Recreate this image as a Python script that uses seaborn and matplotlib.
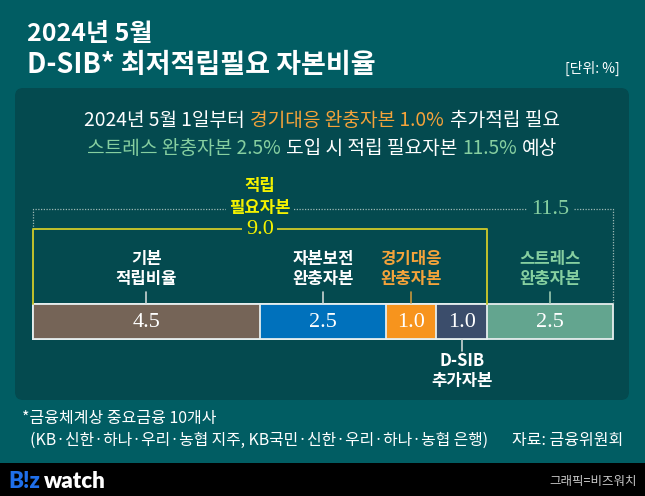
import numpy as np
import pandas as pd
import matplotlib
matplotlib.use("Agg")
import matplotlib.pyplot as plt
import matplotlib.transforms as mtransforms
from matplotlib.patches import FancyBboxPatch, Rectangle
import seaborn as sns

# ---------------- data ----------------
segments = ["기본 적립비율", "자본보전 완충자본", "경기대응 완충자본", "D-SIB 추가자본", "스트레스 완충자본"]
values = [4.5, 2.5, 1.0, 1.0, 2.5]
seg_colors = ["#756457", "#0071BC", "#F7941D", "#3B4D6B", "#63A58F"]
label_lines = [["기본", "적립비율"], ["자본보전", "완충자본"], ["경기대응", "완충자본"],
               ["D-SIB", "추가자본"], ["스트레스", "완충자본"]]
label_side = ["above", "above", "above", "below", "above"]
required_total = 9.0
stress_total = 11.5
required_label = ["적립", "필요자본"]

title_top = "2024년 5월"
title_main = "D-SIB* 최저적립필요 자본비율"
unit_text = "[단위: %]"
sub_line1 = [("2024년 5월 1일부터", "w"), ("경기대응 완충자본 1.0%", "o"), ("추가적립 필요", "w")]
sub_line2 = [("스트레스 완충자본 2.5%", "g"), ("도입 시 적립 필요자본", "w"), ("11.5%", "g"), ("예상", "w")]
foot1 = "*금융체계상 중요금융 10개사"
foot2 = "(KB·신한·하나·우리·농협 지주, KB국민·신한·우리·하나·농협 은행)"
source = "자료: 금융위원회"
credit = "그래픽=비즈워치"

# ---------------- style ----------------
BG = "#015D63"
PANEL = "#044A4F"
ORANGE = "#F5A33A"
GREEN = "#86CFA0"
YELLOW = "#F4F200"
YLINE = "#C2C22C"
DOT = "#9DB8B4"
txt_col = {"w": "white", "o": ORANGE, "g": GREEN}
label_colors = ["white", "white", ORANGE, "white", GREEN]
tick_colors = ["#C9D3D3", "#C9D3D3", "#C8963A", "#C9D3D3", "#9CC9B0"]

sns.set_theme(style="white")
plt.rcParams['font.family'] = ['Noto Sans CJK KR', 'DejaVu Sans']
SERIF = ['Liberation Serif', 'DejaVu Serif']

fig = plt.figure(figsize=(6.45, 4.96), dpi=100, facecolor=BG)
bg = fig.add_axes([0, 0, 1, 1])
bg.set_xlim(0, 645)
bg.set_ylim(496, 0)
bg.axis("off")
bg.add_patch(FancyBboxPatch((23, 96), 598, 296, boxstyle="round,pad=8",
                            fc=PANEL, ec="none"))
bg.add_patch(Rectangle((0, 463), 645, 33, fc="black", ec="none"))

# titles
bg.text(27, 34, title_top, fontsize=18, weight="bold", color="white", va="center")
bg.text(27, 65, title_main, fontsize=19.5, weight="bold", color="white", va="center")
bg.text(620, 68, unit_text, fontsize=10, color="white", ha="right", va="center")

# rich text helper
def rich_line(parts, y, size, gap_pt):
    first = None
    prev = None
    arts = []
    for s, c in parts:
        if prev is None:
            prev = bg.text(0, y, s, fontsize=size, color=txt_col[c], va="center", ha="left")
            first = prev
        else:
            prev = bg.annotate(s, xy=(1, 0), xycoords=prev, xytext=(gap_pt, 0),
                               textcoords="offset points", fontsize=size,
                               color=txt_col[c], va="bottom", ha="left")
        arts.append(prev)
    return first, arts

rich = [rich_line(sub_line1, 121, 13.8, 3.8), rich_line(sub_line2, 148, 13.8, 3.8)]

# ---------------- bars ----------------
ax = fig.add_axes([33 / 645, 1 - 339 / 496, 580 / 645, 35 / 496])
cum = np.cumsum(values)
df = pd.DataFrame({"row": ["D-SIB"] * len(segments), "segment": segments, "end": cum})
sns.barplot(data=df.iloc[::-1], x="end", y="row", hue="segment",
            hue_order=segments[::-1], palette=dict(zip(segments, seg_colors)),
            dodge=False, width=1, orient="h", saturation=1, legend=False,
            edgecolor="#E6EEEE", linewidth=1.3, ax=ax)
for p in ax.patches:
    p.set_clip_on(False)
ax.set_xlim(0, stress_total)
ax.set_ylim(0.5, -0.5)
ax.axis("off")

starts = cum - np.array(values)
centers = starts + np.array(values) / 2
for cx, v in zip(centers, values):
    ax.text(cx, 0.02, f"{v:.1f}", ha="center", va="center", color="white",
            fontsize=16, family=SERIF)

trans = mtransforms.blended_transform_factory(ax.transData, bg.transData)

for cx, lines, side, lc, tc in zip(centers, label_lines, label_side, label_colors, tick_colors):
    if side == "above":
        ax.plot([cx, cx], [292, 303], color=tc, lw=1.2, transform=trans, clip_on=False)
        ys = [259, 279]
    else:
        ax.plot([cx, cx], [340, 351], color=tc, lw=1.2, transform=trans, clip_on=False)
        ys = [361, 381]
    for yy, s in zip(ys, lines):
        ax.text(cx, yy, s, ha="center", va="center", color=lc, fontsize=12,
                weight="bold", transform=trans, clip_on=False)

# dotted bracket for the full total
ax.plot([0, 0, stress_total, stress_total], [229, 209, 209, 304], color=DOT, lw=0.9,
        ls=(0, (1, 1.2)), transform=trans, clip_on=False, zorder=1)
# yellow bracket for required capital
ax.plot([0, 0, required_total, required_total], [304, 229, 229, 304], color=YLINE,
        lw=1.4, transform=trans, clip_on=False, zorder=2)

mid_req = required_total / 2
bb = dict(fc=PANEL, ec="none", pad=2.5)
ax.text(mid_req, 186, required_label[0], ha="center", va="center", color=YELLOW,
        fontsize=12, weight="bold", transform=trans, clip_on=False)
ax.text(mid_req, 208, required_label[1], ha="center", va="center", color=YELLOW,
        fontsize=12, weight="bold", transform=trans, clip_on=False, bbox=bb, zorder=3)
ax.text(mid_req, 230, f"{required_total:.1f}", ha="center", va="center", color=YELLOW,
        fontsize=16, family=SERIF, transform=trans, clip_on=False, bbox=bb, zorder=3)
stress_mid = (required_total + stress_total) / 2
ax.text(stress_mid, 210, f"{stress_total:.1f}", ha="center", va="center", color=GREEN,
        fontsize=16, family=SERIF, transform=trans, clip_on=False, bbox=bb, zorder=3)

# footer
bg.text(22, 418, foot1, fontsize=11.5, color="white", va="center")
bg.text(30, 440, foot2, fontsize=11.4, color="white", va="center")
bg.text(623, 440, source, fontsize=11.5, color="white", va="center", ha="right")

# logo
t1 = bg.text(8, 481, "B!z", fontsize=16, weight="heavy", color="#1F6FEA",
             va="center", family=["Lato", "DejaVu Sans"])
bg.annotate("watch", xy=(1, 0), xycoords=t1, xytext=(3, 0), textcoords="offset points",
            fontsize=16, weight="heavy", color="white", va="bottom", ha="left",
            family=["Lato", "DejaVu Sans"])
bg.text(637, 481, credit, fontsize=9, color="#C8C8C8", va="center", ha="right")

# center the rich lines
fig.canvas.draw()
r = fig.canvas.get_renderer()
inv = bg.transData.inverted()
for first, arts in rich:
    x0 = min(a.get_window_extent(r).x0 for a in arts)
    x1 = max(a.get_window_extent(r).x1 for a in arts)
    (dx0, _), (dx1, _) = inv.transform([(x0, 0), (x1, 0)])
    w = dx1 - dx0
    first.set_x(322 - w / 2)

fig.savefig("out.png", dpi=100, facecolor=BG)
